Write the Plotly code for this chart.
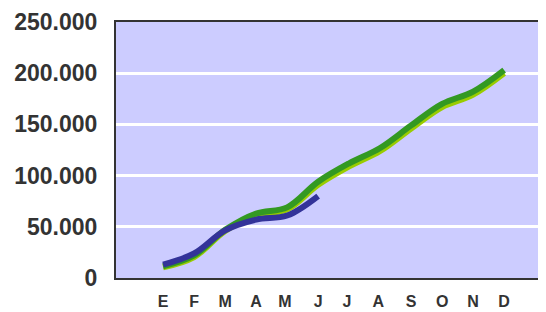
import plotly.graph_objects as go

months = ["E", "F", "M", "A", "M ", "J", "J ", "A ", "S", "O", "N", "D"]
yellow_vals = [10500, 20500, 46000, 61000, 67000, 91000, 109000, 124000, 146000, 167000, 179000, 200000]
green_vals = [11500, 22000, 47000, 63000, 69000, 94000, 112000, 127000, 149000, 170000, 182000, 203000]
blue_vals = [13000, 24000, 46500, 57000, 61000, 80000]
y_ticks = [0, 50000, 100000, 150000, 200000, 250000]

fig = go.Figure()
fig.add_trace(go.Scatter(x=months, y=yellow_vals, mode="lines",
                         line=dict(color="#99CC00", width=6, shape="spline", smoothing=1)))
fig.add_trace(go.Scatter(x=months, y=green_vals, mode="lines",
                         line=dict(color="#339922", width=6, shape="spline", smoothing=1)))
fig.add_trace(go.Scatter(x=months[:len(blue_vals)], y=blue_vals, mode="lines",
                         line=dict(color="#333399", width=6, shape="spline", smoothing=1)))

# page body has an 8px default margin, so the figure is 8px smaller
fig.update_layout(
    width=538, height=304,
    margin=dict(l=108, r=0, t=14, b=34),
    paper_bgcolor="white", plot_bgcolor="#CCCCFF",
    showlegend=False,
    separators=",.",
    font=dict(family="Liberation Sans", color="#333333"),
)
fig.update_xaxes(
    type="category", categoryorder="array", categoryarray=months,
    range=[-1.52, 12.35], showgrid=False, zeroline=False,
    showline=True, linecolor="#333333", linewidth=2, mirror=True,
    tickfont=dict(size=16, weight="bold", color="#333333"),
    ticks="", ticklabelstandoff=8, automargin=False,
)
fig.update_yaxes(
    range=[0, 250000], tickvals=y_ticks, tickformat=",d",
    showgrid=True, gridcolor="white", gridwidth=3, zeroline=False,
    showline=True, linecolor="#333333", linewidth=2,
    tickfont=dict(size=23, weight="bold", color="#333333"),
    ticks="", ticklabelstandoff=12, automargin=False,
)
fig.write_html("out.html")
